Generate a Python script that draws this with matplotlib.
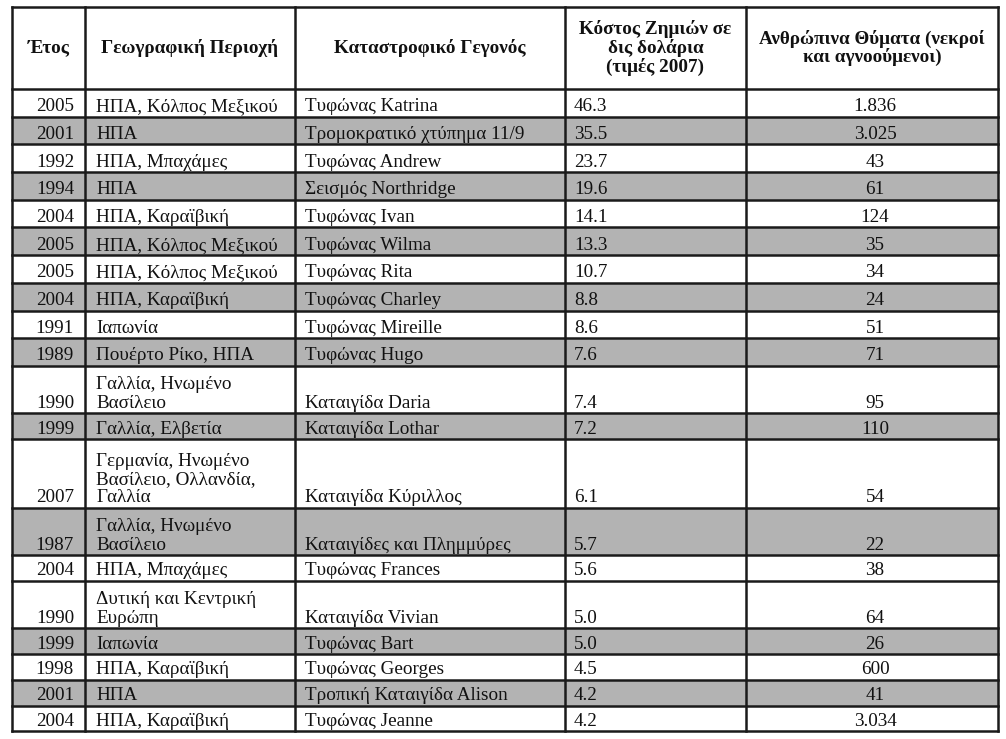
import matplotlib
matplotlib.use("Agg")
import matplotlib.pyplot as plt
from matplotlib.patches import Rectangle

# Table data
headers = [
    "Έτος",
    "Γεωγραφική Περιοχή",
    "Καταστροφικό Γεγονός",
    "Κόστος Ζημιών σε\nδις δολάρια\n(τιμές 2007)",
    "Ανθρώπινα Θύματα (νεκροί\nκαι αγνοούμενοι)",
]
years = ["2005", "2001", "1992", "1994", "2004", "2005", "2005", "2004", "1991", "1989",
         "1990", "1999", "2007", "1987", "2004", "1990", "1999", "1998", "2001", "2004"]
regions = [
    "ΗΠΑ, Κόλπος Μεξικού", "ΗΠΑ", "ΗΠΑ, Μπαχάμες", "ΗΠΑ", "ΗΠΑ, Καραϊβική",
    "ΗΠΑ, Κόλπος Μεξικού", "ΗΠΑ, Κόλπος Μεξικού", "ΗΠΑ, Καραϊβική", "Ιαπωνία",
    "Πουέρτο Ρίκο, ΗΠΑ", "Γαλλία, Ηνωμένο\nΒασίλειο", "Γαλλία, Ελβετία",
    "Γερμανία, Ηνωμένο\nΒασίλειο, Ολλανδία,\nΓαλλία", "Γαλλία, Ηνωμένο\nΒασίλειο",
    "ΗΠΑ, Μπαχάμες", "Δυτική και Κεντρική\nΕυρώπη", "Ιαπωνία", "ΗΠΑ, Καραϊβική",
    "ΗΠΑ", "ΗΠΑ, Καραϊβική",
]
events = [
    "Τυφώνας Katrina", "Τρομοκρατικό χτύπημα 11/9", "Τυφώνας Andrew", "Σεισμός Northridge",
    "Τυφώνας Ivan", "Τυφώνας Wilma", "Τυφώνας Rita", "Τυφώνας Charley", "Τυφώνας Mireille",
    "Τυφώνας Hugo", "Καταιγίδα Daria", "Καταιγίδα Lothar", "Καταιγίδα Κύριλλος",
    "Καταιγίδες και Πλημμύρες", "Τυφώνας Frances", "Καταιγίδα Vivian", "Τυφώνας Bart",
    "Τυφώνας Georges", "Τροπική Καταιγίδα Alison", "Τυφώνας Jeanne",
]
costs = ["46.3", "35.5", "23.7", "19.6", "14.1", "13.3", "10.7", "8.8", "8.6", "7.6",
         "7.4", "7.2", "6.1", "5.7", "5.6", "5.0", "5.0", "4.5", "4.2", "4.2"]
victims = ["1.836", "3.025", "43", "61", "124", "35", "34", "24", "51", "71",
           "95", "110", "54", "22", "38", "64", "26", "600", "41", "3.034"]
shaded = [False, True, False, True, False, True, False, True, False, True,
          False, True, False, True, False, False, True, False, True, False]

# layout in pixels
W, H = 1006, 739
col_x = [12, 85, 295, 565, 746, 998]
top, head_bot = 7, 89
row_h_top, row_h, line_h = 27.7, 25.8, 21.5   # scan rows are a bit taller at the top
font = "Liberation Serif"
fs = 13.8
gray = "#b3b3b3"
ink = "#111111"


def main():
    fig = plt.figure(figsize=(W / 100, H / 100), dpi=100)
    ax = fig.add_axes([0, 0, 1, 1])
    ax.set_xlim(0, W)
    ax.set_ylim(H, 0)
    ax.axis("off")

    # row boundaries
    bounds = [head_bot]
    for i, reg in enumerate(regions):
        n = reg.count("\n") + 1
        h = row_h_top if i < 10 else row_h
        bounds.append(bounds[-1] + h + (n - 1) * line_h)

    kw = dict(fontsize=fs, family=font, va="bottom", color=ink, zorder=3,
              linespacing=1.1)
    for i in range(len(years)):
        y0, y1 = bounds[i], bounds[i + 1]
        if shaded[i]:
            ax.add_patch(Rectangle((col_x[0], y0), col_x[-1] - col_x[0], y1 - y0,
                                   facecolor=gray, edgecolor="none", zorder=1))
        yb = y1 - 1.5
        ax.text(col_x[1] - 11, yb, years[i], ha="right", **kw)
        ax.text(col_x[1] + 11, yb, regions[i], ha="left", **kw)
        ax.text(col_x[2] + 10, yb, events[i], ha="left", **kw)
        ax.text(col_x[3] + 9, yb, costs[i], ha="left", **kw)
        ax.text((col_x[4] + col_x[5]) / 2 + 3, yb, victims[i], ha="center", **kw)

    # header
    for j, head in enumerate(headers):
        ax.text((col_x[j] + col_x[j + 1]) / 2, (top + head_bot) / 2, head,
                ha="center", va="center", ma="center", fontsize=fs, family=font,
                fontweight="bold", color=ink, linespacing=1.05, zorder=3)

    # grid lines
    for y in [top] + bounds:
        ax.plot([col_x[0], col_x[-1]], [y, y], color="#1a1a1a", lw=1.8,
                solid_capstyle="projecting", zorder=4)
    for x in col_x:
        ax.plot([x, x], [top, bounds[-1]], color="#1a1a1a", lw=1.8,
                solid_capstyle="projecting", zorder=4)

    fig.savefig("out.png", dpi=100)


if __name__ == "__main__":
    main()
